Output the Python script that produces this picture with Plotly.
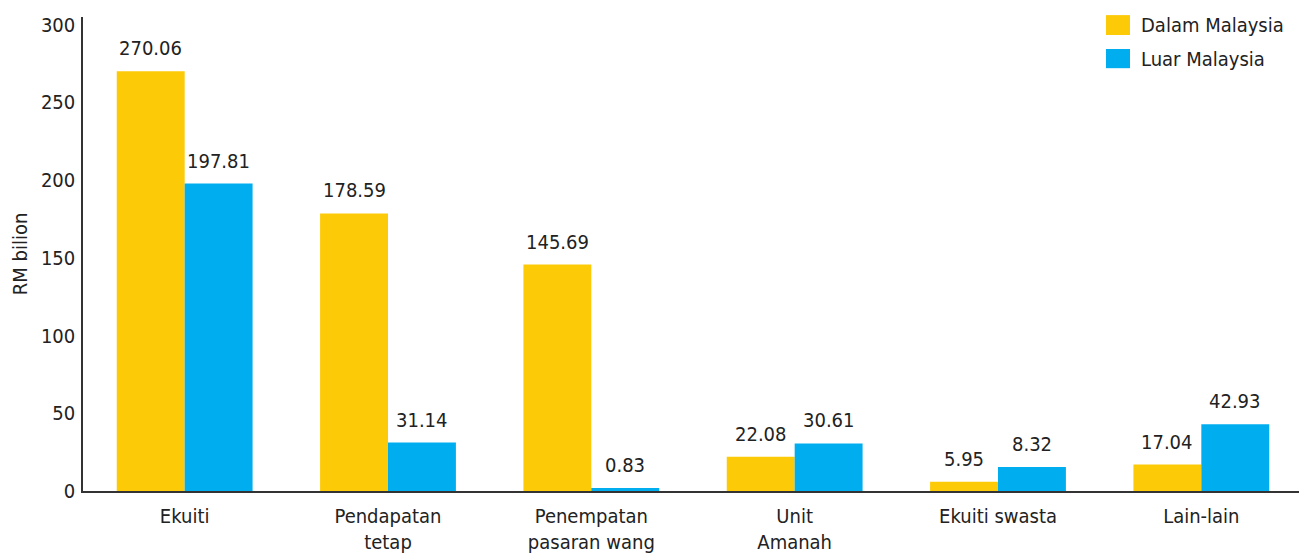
import plotly.graph_objects as go

categories = ["Ekuiti", "Pendapatan<br>tetap", "Penempatan<br>pasaran wang", "Unit<br>Amanah", "Ekuiti swasta", "Lain-lain"]
dalam_heights = [270.06, 178.59, 145.69, 22.08, 5.95, 17.04]
luar_heights = [197.81, 31.14, 2.0, 30.61, 15.5, 42.93]
dalam_labels = ["270.06", "178.59", "145.69", "22.08", "5.95", "17.04"]
luar_labels = ["197.81", "31.14", "0.83", "30.61", "8.32", "42.93"]
series_names = ["Dalam Malaysia", "Luar Malaysia"]
y_ticks = [0, 50, 100, 150, 200, 250, 300]

YELLOW = "#FDCA08"
BLUE = "#00AEEF"
FONT = "Liberation Sans Narrow, DejaVu Sans Condensed, Roboto, sans-serif"
FS = 20

fig = go.Figure()
fig.add_bar(x=categories, y=dalam_heights, name=series_names[0], marker_color=YELLOW, marker_line_width=0)
fig.add_bar(x=categories, y=luar_heights, name=series_names[1], marker_color=BLUE, marker_line_width=0)

half = 0.668 / 4
for i in range(len(categories)):
    fig.add_annotation(x=i - half, y=dalam_heights[i], text=dalam_labels[i], showarrow=False,
                       yanchor="bottom", yshift=9, font=dict(size=FS, color="#222"))
    fig.add_annotation(x=i + half, y=luar_heights[i], text=luar_labels[i], showarrow=False,
                       yanchor="bottom", yshift=9, font=dict(size=FS, color="#222"))

# manual legend with large square swatches
legend_rows = [(series_names[0], YELLOW, 1.004, 0.962, 0.983),
               (series_names[1], BLUE, 0.9325, 0.892, 0.912)]
for name, col, y0, y1, ym in legend_rows:
    fig.add_shape(type="rect", xref="paper", yref="paper", x0=0.8385, x1=0.8582, y0=y1, y1=y0,
                  fillcolor=col, line_width=0)
    fig.add_annotation(xref="paper", yref="paper", x=0.8656, y=ym, text=name, showarrow=False,
                       xanchor="left", yanchor="middle", font=dict(size=FS, color="#222"))

fig.update_layout(
    width=1307, height=556,
    margin=dict(l=75, r=12, t=9, b=73),
    paper_bgcolor="white", plot_bgcolor="white",
    barmode="group", bargap=0.332, bargroupgap=0,
    font=dict(family=FONT, size=FS, color="#222"),
    showlegend=False,
    xaxis=dict(showline=True, linecolor="#333", linewidth=1.5, ticks="", showgrid=False,
               range=[-0.5, 5.5], tickfont=dict(size=FS), automargin=False, ticklabelstandoff=6),
    yaxis=dict(showline=True, linecolor="#333", linewidth=1.5, ticks="", showgrid=False,
               range=[0, 305], tickvals=y_ticks, zeroline=False, automargin=False,
               title=dict(text="RM bilion", font=dict(size=FS), standoff=16),
               ticklabelstandoff=2, tickfont=dict(size=FS)),
)

fig.write_html("out.html")
